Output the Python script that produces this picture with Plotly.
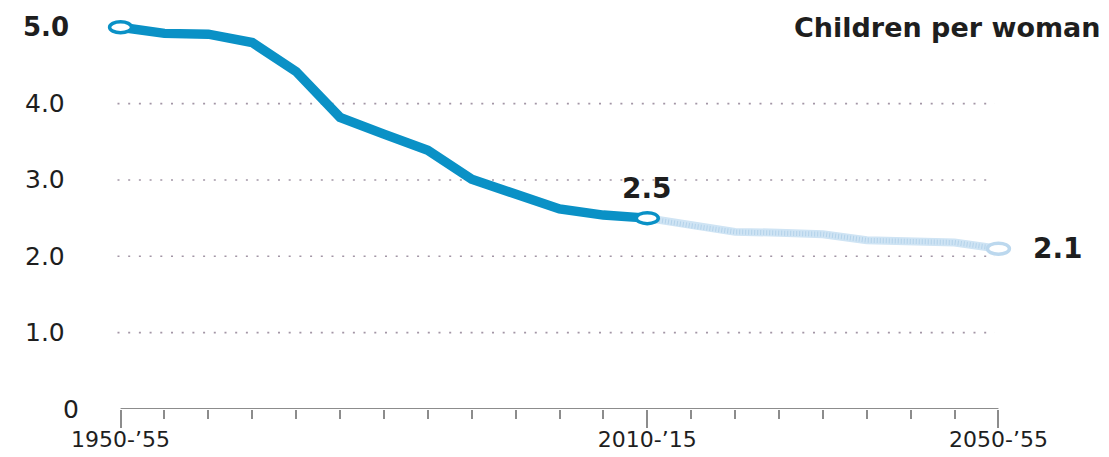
import plotly.graph_objects as go

# ---- data ----
hist_years = [1950, 1955, 1960, 1965, 1970, 1975, 1980, 1985, 1990, 1995, 2000, 2005, 2010]
hist_vals = [5.0, 4.92, 4.91, 4.8, 4.42, 3.82, 3.6, 3.39, 3.01, 2.8, 2.62, 2.54, 2.5]
proj_years = [2010, 2015, 2020, 2025, 2030, 2035, 2040, 2045, 2050]
proj_vals = [2.5, 2.4, 2.32, 2.31, 2.29, 2.21, 2.2, 2.18, 2.1]
grid_vals = [1, 2, 3, 4]
y_labels = ["0", "1.0", "2.0", "3.0", "4.0", "5.0"]
y_label_vals = [0, 1, 2, 3, 4, 5]
x_tick_vals = [1950, 2010, 2050]
x_tick_text = ["1950-’55", "2010-’15", "2050-’55"]
minor_years = list(range(1950, 2051, 5))
unit_label = "Children per woman"

BLUE = "#0a91c6"
LIGHT = "#cfe4f4"
LIGHT_DARK = "#b3d2ea"
TXT = "#1e1e1e"
FONT = "DejaVu Sans"

fig = go.Figure()

# projection (light, textured)
fig.add_trace(go.Scatter(x=proj_years, y=proj_vals, mode="lines",
                         line=dict(color=LIGHT, width=8), hoverinfo="skip"))
fig.add_trace(go.Scatter(x=proj_years, y=proj_vals, mode="lines",
                         line=dict(color=LIGHT_DARK, width=5, dash="1px,2px"), hoverinfo="skip"))
# historical
fig.add_trace(go.Scatter(x=hist_years, y=hist_vals, mode="lines",
                         line=dict(color=BLUE, width=9.5), hoverinfo="skip"))

shapes = []
# dotted gridlines
for g in grid_vals:
    shapes.append(dict(type="line", xref="x", yref="y", x0=hist_years[0] - 0.35, x1=proj_years[-1] - 0.4,
                       y0=g, y1=g, line=dict(color="#a396a6", width=1.6, dash="2px,8.7px"),
                       layer="below"))
# axis baseline
shapes.append(dict(type="line", xref="x", yref="y", x0=hist_years[0], x1=proj_years[-1],
                   y0=0, y1=0, line=dict(color="#8c8c8c", width=2), layer="above"))
# endpoint ellipses
rx, ry = 1.25, 0.072
for yr, v, col in [(hist_years[0], hist_vals[0], BLUE),
                   (hist_years[-1], hist_vals[-1], BLUE),
                   (proj_years[-1], proj_vals[-1], "#bcd8ee")]:
    shapes.append(dict(type="circle", xref="x", yref="y", x0=yr - rx, x1=yr + rx,
                       y0=v - ry, y1=v + ry, fillcolor="white",
                       line=dict(color=col, width=3.5), layer="above"))

annotations = []
for lab, v in zip(y_labels, y_label_vals):
    bold = lab == "5.0"
    xs = -50 if lab == "0" else (-75 if bold else -76)
    annotations.append(dict(text=lab, xref="paper", yref="y", x=0.0193, y=v, xanchor="center",
                            yanchor="middle", xshift=xs, showarrow=False,
                            font=dict(family=FONT, size=26 if bold else 25, color=TXT,
                                      weight=700 if bold else 400)))
annotations.append(dict(text=unit_label, xref="paper", yref="y", x=1, y=5.0, xanchor="right",
                        yanchor="middle", xshift=93 - 6, showarrow=False,
                        font=dict(family=FONT, size=27, color=TXT, weight=700)))
annotations.append(dict(text="2.5", xref="x", yref="y", x=hist_years[-1], y=hist_vals[-1],
                        xanchor="center", yanchor="middle", yshift=30, showarrow=False,
                        font=dict(family=FONT, size=28, color=TXT, weight=700)))
annotations.append(dict(text="2.1", xref="x", yref="y", x=proj_years[-1], y=proj_vals[-1],
                        xanchor="left", yanchor="middle", xshift=33, showarrow=False,
                        font=dict(family=FONT, size=28, color=TXT, weight=700)))

fig.update_layout(
    width=1109, height=457,
    margin=dict(l=103, r=93, t=12, b=48, autoexpand=False),
    paper_bgcolor="white", plot_bgcolor="white",
    showlegend=False,
    shapes=shapes, annotations=annotations,
    xaxis=dict(range=[1948, 2052], showgrid=False, zeroline=False, showline=False,
               automargin=False,
               tickmode="array", tickvals=x_tick_vals, ticktext=x_tick_text,
               ticks="outside", ticklen=18, tickwidth=2, tickcolor="#8c8c8c",
               ticklabelstandoff=-7,
               tickfont=dict(family=FONT, size=22, color=TXT),
               minor=dict(tickmode="array", tickvals=minor_years, ticks="outside",
                          ticklen=9, tickwidth=2, tickcolor="#8c8c8c", showgrid=False),
               fixedrange=True),
    yaxis=dict(range=[0, 5.2], showgrid=False, zeroline=False, showline=False,
               automargin=False,
               showticklabels=False, ticks="", fixedrange=True),
)

# remove the browser's default 8px body margin so the figure fills the window exactly
fig.write_html("out.html", config={"displayModeBar": False},
               post_script="document.body.style.margin='0';")
